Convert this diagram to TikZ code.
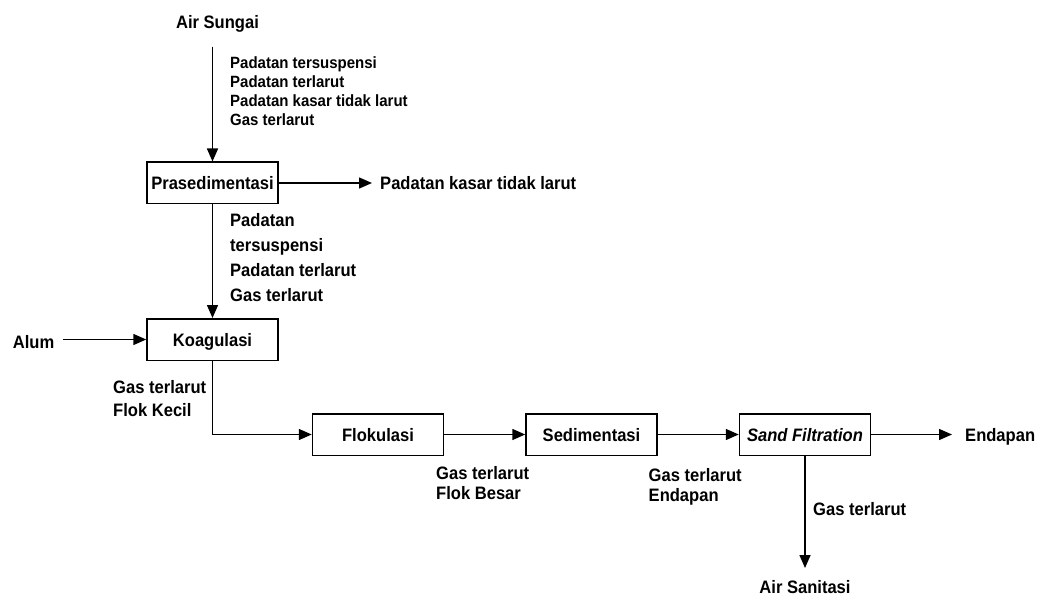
\documentclass[tikz,border=0pt]{standalone}
\usepackage{fontspec}
\setmainfont{Liberation Sans}[FakeStretch=0.92]
\usetikzlibrary{arrows.meta}
\tikzset{
  box/.style={draw, line width=1.5pt, minimum width=131pt, minimum height=41.5pt, inner sep=0pt,
    text height=13pt, text depth=0pt,
    font=\bfseries\fontsize{18}{20}\selectfont},
  lbl/.style={inner sep=0pt, anchor=base west, font=\bfseries\fontsize{18}{20}\selectfont},
  slbl/.style={inner sep=0pt, anchor=base west, font=\bfseries\fontsize{16.3}{19}\selectfont},
  end/.style={inner sep=0pt, font=\bfseries\fontsize{18}{20}\selectfont},
  flow/.style={line width=1.5pt, -{Triangle[length=13pt,width=11pt]}},
}
\begin{document}
\begin{tikzpicture}[x=1pt,y=-1pt]
\useasboundingbox (0,0) rectangle (1040,601);
% boxes
\node[box] (pras) at (212.5,183) {Prasedimentasi};
\node[box] (koag) at (212.5,339.5) {Koagulasi};
\node[box] (flok) at (378,434.5) {Flokulasi};
\node[box] (sedi) at (591.5,434.5) {Sedimentasi};
\node[box] (sand) at (805,434.5) {\itshape Sand Filtration};
% end texts
\node[end, anchor=base] (air) at (217.5,28.3) {Air Sungai};
\node[end, anchor=base west] (kasar) at (380,189.5) {Padatan kasar tidak larut};
\node[end, anchor=base west] (alum) at (12.7,348) {Alum};
\node[end, anchor=base west] (endap) at (965,441) {Endapan};
\node[end, anchor=base] (sanit) at (805,593.5) {Air Sanitasi};
% coordinates
\coordinate (airbot) at (212.5,46.7);
\coordinate (kasartip) at (372,183);
\coordinate (alumr) at (63,339.5);
\coordinate (corner) at (212.5,434.5);
\coordinate (endtip) at (952,434.5);
\coordinate (santip) at (805,568);
% connectors
\draw[flow] (airbot) -- (pras.north);
\draw[flow] (pras.east) -- (kasartip);
\draw[flow] (pras.south) -- (koag.north);
\draw[flow] (alumr) -- (koag.west);
\draw[flow] (koag.south) -- (corner) -- (flok.west);
\draw[flow] (flok.east) -- (sedi.west);
\draw[flow] (sedi.east) -- (sand.west);
\draw[flow] (sand.east) -- (endtip);
\draw[flow] (sand.south) -- (santip);
% labels top
\node[slbl] (t1) at (230,69) {Padatan tersuspensi};
\node[slbl] (t2) at (230,88) {Padatan terlarut};
\node[slbl] (t3) at (230,107) {Padatan kasar tidak larut};
\node[slbl] (t4) at (230,126) {Gas terlarut};
% labels below pras
\node[lbl] (p1) at (230,226.7) {Padatan};
\node[lbl] (p2) at (230,252) {tersuspensi};
\node[lbl] (p3) at (230,276.5) {Padatan terlarut};
\node[lbl] (p4) at (230,301.5) {Gas terlarut};
% labels below koag
\node[lbl] (k1) at (113,393.5) {Gas terlarut};
\node[lbl] (k2) at (113,416) {Flok Kecil};
% labels below flok
\node[lbl] (f1) at (436,479) {Gas terlarut};
\node[lbl] (f2) at (436,499.5) {Flok Besar};
% labels below sedi
\node[lbl] (s1) at (648.5,481) {Gas terlarut};
\node[lbl] (s2) at (648.5,501.5) {Endapan};
% label sand
\node[lbl] (g1) at (813,515) {Gas terlarut};
\end{tikzpicture}
\end{document}
